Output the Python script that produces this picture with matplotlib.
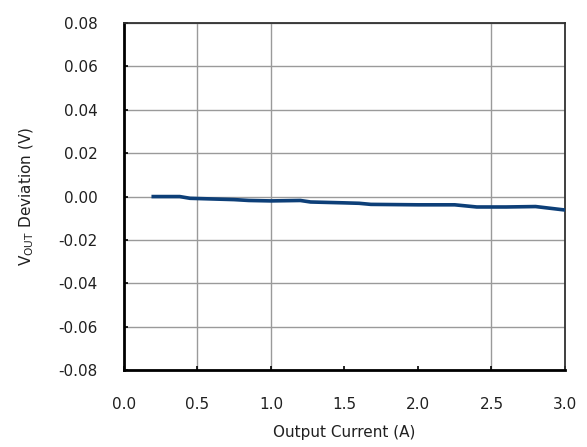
import numpy as np
import matplotlib.pyplot as plt

# output current (A) and deviation (V)
current = [0.2, 0.38, 0.45, 0.6, 0.75, 0.85, 1.0, 1.2, 1.27, 1.5, 1.6, 1.68,
           2.0, 2.25, 2.4, 2.6, 2.8, 3.0]
deviation = [0.0, 0.0, -0.0008, -0.0011, -0.0014, -0.0018, -0.0020, -0.0018,
             -0.0025, -0.0029, -0.0031, -0.0036, -0.0038, -0.0038, -0.0048,
             -0.0048, -0.0046, -0.0062]

xticks = [0.0, 0.5, 1.0, 1.5, 2.0, 2.5, 3.0]
yticks = [-0.08, -0.06, -0.04, -0.02, 0.00, 0.02, 0.04, 0.06, 0.08]
xgrid = [0.5, 1.0, 2.5]

fig = plt.figure(figsize=(5.87, 4.47), dpi=100)
ax = fig.add_axes([0.211, 0.172, 0.7515, 0.7765])

for y in yticks:
    ax.axhline(y, color='#9a9a9a', lw=1.0, zorder=1)
for x in xgrid:
    ax.axvline(x, color='#9a9a9a', lw=1.0, zorder=1)

ax.plot(current, deviation, color='#0d3f78', lw=2.6, zorder=3)

ax.set_xlim(0, 3.0)
ax.set_ylim(-0.08, 0.08)
ax.set_xticks(xticks)
ax.set_xticklabels(['%.1f' % v for v in xticks])
ax.set_yticks(yticks)
ax.set_yticklabels(['%.2f' % v for v in yticks])
ax.tick_params(direction='in', length=3, width=1.2, labelsize=11, pad=19,
               labelcolor='#202020')

for s in ['left', 'bottom']:
    ax.spines[s].set_linewidth(2.0)
for s in ['top', 'right']:
    ax.spines[s].set_linewidth(1.3)
    ax.spines[s].set_color('#303030')

ax.set_xlabel('Output Current (A)', fontsize=11, labelpad=10, color='#202020')
ax.set_ylabel('V$_{\\rm OUT}$ Deviation (V)', fontsize=11, labelpad=16,
              color='#202020')

fig.savefig('out.png', dpi=100)
